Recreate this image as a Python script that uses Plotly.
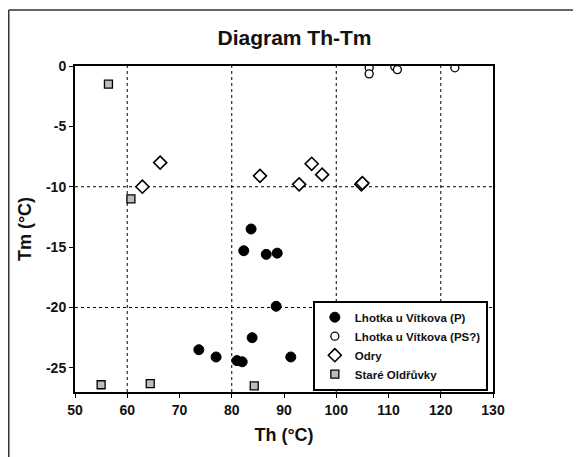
import plotly.graph_objects as go

# Lhotka u Vítkova (P)
p_th = [83.7, 82.3, 86.6, 88.7, 88.5, 83.9, 73.7, 77.0, 81.0, 82.0, 91.3]
p_tm = [-13.5, -15.3, -15.6, -15.5, -19.9, -22.5, -23.5, -24.1, -24.4, -24.5, -24.1]
# Lhotka u Vítkova (PS?)
ps_th = [106.3, 106.3, 111.2, 111.7, 122.7]
ps_tm = [-0.15, -0.65, -0.05, -0.3, -0.15]
# Odry
od_th = [62.9, 66.3, 85.4, 92.9, 95.3, 97.3, 104.8, 105.0]
od_tm = [-10.0, -8.0, -9.1, -9.8, -8.1, -9.0, -9.8, -9.7]
# Staré Oldřůvky
so_th = [56.4, 60.7, 55.0, 64.4, 84.3]
so_tm = [-1.5, -11.0, -26.4, -26.3, -26.5]

x_ticks = [50, 60, 70, 80, 90, 100, 110, 120, 130]
y_ticks = [0, -5, -10, -15, -20, -25]
x_grid = [60, 80, 100, 120]
y_grid = [-10, -20]

FONT = "Liberation Sans"

fig = go.Figure()
fig.add_trace(go.Scatter(x=p_th, y=p_tm, mode="markers", name="Lhotka u Vítkova (P)",
                         marker=dict(symbol="circle", size=10, color="black",
                                     line=dict(color="black", width=1))))
fig.add_trace(go.Scatter(x=ps_th, y=ps_tm, mode="markers", name="Lhotka u Vítkova (PS?)",
                         marker=dict(symbol="circle", size=8, color="white",
                                     line=dict(color="black", width=1.3))))
fig.add_trace(go.Scatter(x=od_th, y=od_tm, mode="markers", name="Odry",
                         marker=dict(symbol="diamond", size=10, color="white",
                                     line=dict(color="black", width=1.6))))
fig.add_trace(go.Scatter(x=so_th, y=so_tm, mode="markers", name="Staré Oldřůvky",
                         marker=dict(symbol="square", size=8, color="#bdbdbd",
                                     line=dict(color="black", width=1.3))))

shapes = []
for gx in x_grid:
    shapes.append(dict(type="line", xref="x", yref="y", x0=gx, x1=gx, y0=-27, y1=0,
                       line=dict(color="black", width=1, dash="3px,3px"), layer="below"))
for gy in y_grid:
    shapes.append(dict(type="line", xref="x", yref="y", x0=50, x1=130, y0=gy, y1=gy,
                       line=dict(color="black", width=1, dash="3px,3px"), layer="below"))
# outer chart frame (top and left edges visible)
shapes.append(dict(type="line", xref="paper", yref="paper", x0=-0.1585, x1=1.3,
                   y0=1.1718, y1=1.1718, line=dict(color="#333333", width=1.5)))
shapes.append(dict(type="line", xref="paper", yref="paper", x0=-0.1585, x1=-0.1585,
                   y0=-0.3, y1=1.1718, line=dict(color="#333333", width=1.5)))

fig.update_layout(
    width=573, height=449,
    margin=dict(l=67, r=88, t=58, b=65),
    paper_bgcolor="white", plot_bgcolor="white",
    font=dict(family=FONT, color="black", size=12, weight="bold"),
    title=dict(text="Diagram Th-Tm", x=0.5, xanchor="center", y=0.933, yanchor="middle",
               font=dict(family=FONT, size=21, weight="bold", color="#111111")),
    showlegend=True,
    legend=dict(x=0.569, y=0.28, xanchor="left", yanchor="top",
                bgcolor="white", bordercolor="black", borderwidth=2,
                font=dict(family=FONT, size=11.5, weight="bold", color="#111111"),
                tracegroupgap=0),
    shapes=shapes,
)
fig.update_xaxes(range=[50, 130], tickmode="array", tickvals=x_ticks,
                 ticktext=["<b>%d</b>" % v for v in x_ticks],
                 showgrid=False, zeroline=False,
                 showline=True, linecolor="black", linewidth=2, mirror=True,
                 ticks="outside", ticklen=4, tickcolor="black",
                 tickfont=dict(family=FONT, size=14, weight="bold", color="#111111"),
                 title=dict(text="Th (°C)", font=dict(family=FONT, size=18, weight="bold", color="#111111"), standoff=12))
fig.update_yaxes(range=[-27, 0], tickmode="array", tickvals=y_ticks,
                 ticktext=["<b>%d</b>" % v for v in y_ticks],
                 showgrid=False, zeroline=False,
                 showline=True, linecolor="black", linewidth=2, mirror=True,
                 ticks="outside", ticklen=4, tickcolor="black",
                 tickfont=dict(family=FONT, size=14, weight="bold", color="#111111"),
                 title=dict(text="Tm (°C)", font=dict(family=FONT, size=18, weight="bold", color="#111111"), standoff=10))

fig.write_html("out.html")
